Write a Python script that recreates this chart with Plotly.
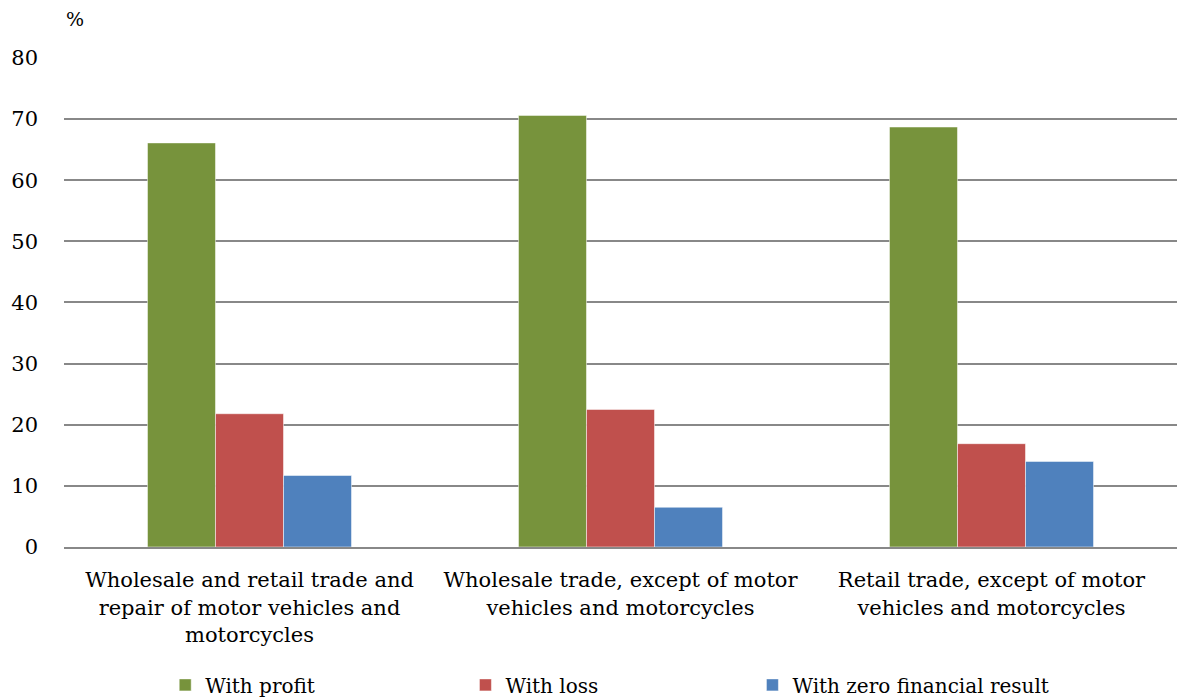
import plotly.graph_objects as go

categories = [
    "Wholesale and retail trade and<br>repair of motor vehicles and<br>motorcycles",
    "Wholesale trade, except of motor<br>vehicles and motorcycles",
    "Retail trade, except of motor<br>vehicles and motorcycles",
]
with_profit = [66.1, 70.6, 68.7]
with_loss = [21.8, 22.5, 16.9]
with_zero = [11.7, 6.5, 14.0]
y_ticks = [0, 10, 20, 30, 40, 50, 60, 70, 80]

FONT = "DejaVu Serif"

fig = go.Figure()
series = [
    ("With profit", with_profit, "#77933C", "legend", 0.1330),
    ("With loss", with_loss, "#C0504D", "legend2", 0.3870),
    ("With zero financial result", with_zero, "#4F81BD", "legend3", 0.6298),
]
for name, vals, col, leg, _ in series:
    fig.add_trace(go.Bar(
        x=categories, y=vals, name=name, legend=leg,
        marker=dict(color=col, line=dict(color="rgba(255,255,255,0.5)", width=1)),
    ))

legend_common = dict(
    orientation="h", xanchor="left", xref="container",
    yref="container", y=0.019, yanchor="middle",
    font=dict(family=FONT, size=20, color="black"),
    itemwidth=30, bgcolor="rgba(0,0,0,0)",
)

fig.update_layout(
    width=1182, height=690,
    margin=dict(l=56, r=13, t=49, b=151, autoexpand=False),
    paper_bgcolor="white", plot_bgcolor="white",
    barmode="group", bargap=0.45, bargroupgap=0,
    font=dict(family=FONT, size=21, color="black"),
    showlegend=True,
    legend=dict(x=series[0][4], **legend_common),
    legend2=dict(x=series[1][4], **legend_common),
    legend3=dict(x=series[2][4], **legend_common),
    xaxis=dict(
        showgrid=False, showline=True, linecolor="#888888", linewidth=2,
        ticks="", tickfont=dict(family=FONT, size=21), automargin=False,
        ticklabelstandoff=13,
    ),
    yaxis=dict(
        range=[0, 80.15], tickvals=y_ticks, showgrid=True, gridcolor="#888888",
        gridwidth=2, zeroline=False, showline=False, ticks="",
        tickfont=dict(family=FONT, size=21), ticklabelstandoff=25,
        automargin=False,
    ),
    annotations=[dict(
        text="%", xref="paper", yref="paper", x=0.0, y=1.05,
        xanchor="left", yanchor="bottom", showarrow=False,
        font=dict(family=FONT, size=19, color="black"),
    )],
)

fig.write_html("out.html")
